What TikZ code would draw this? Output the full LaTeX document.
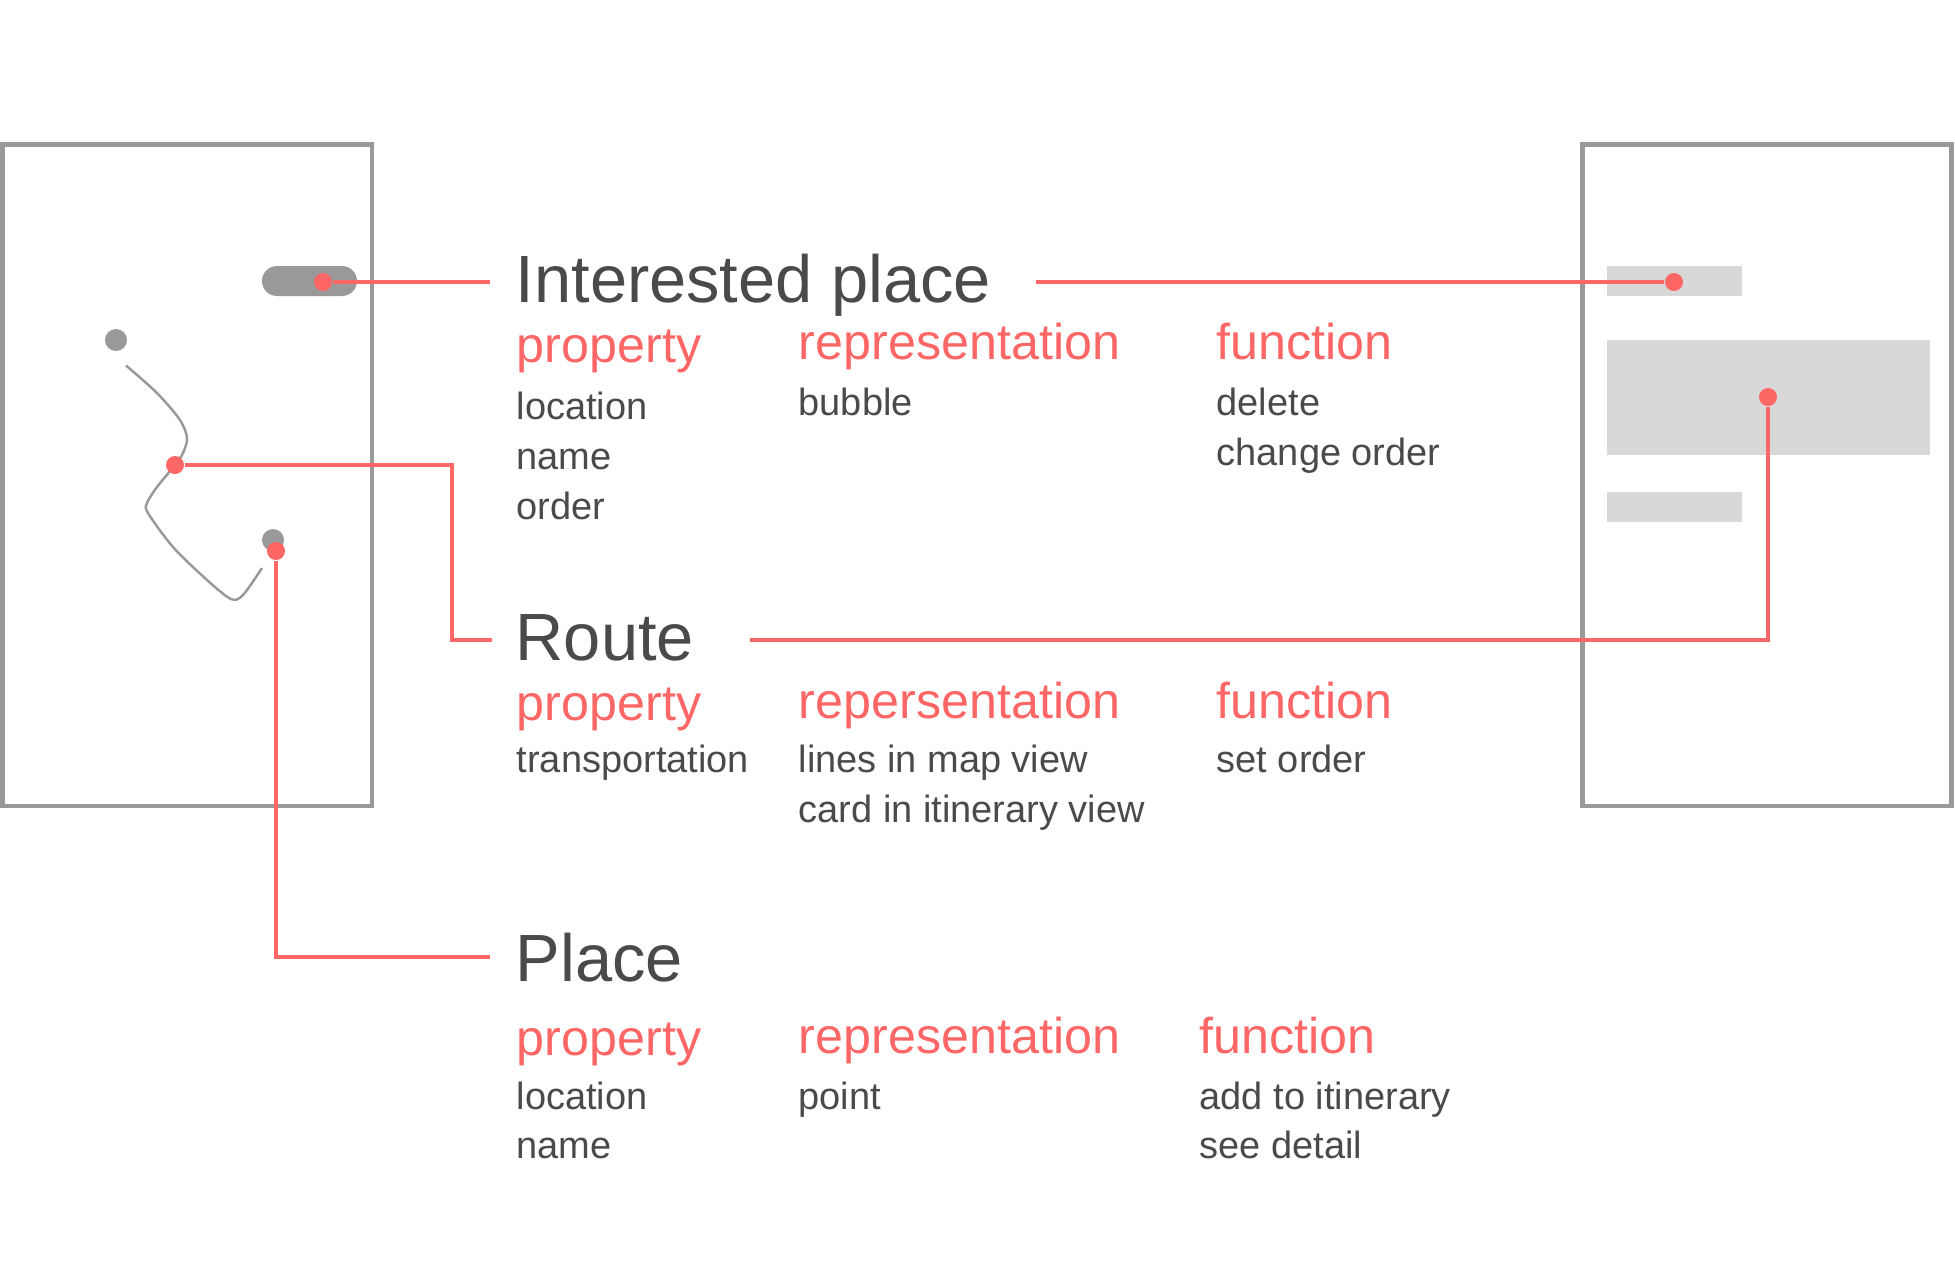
\documentclass[tikz,border=0pt]{standalone}
\usepackage{fontspec}
\setmainfont{Liberation Sans}
\definecolor{linkred}{HTML}{FF6666}
\definecolor{ink}{HTML}{4A4A4A}
\definecolor{framegray}{HTML}{999999}
\definecolor{bargray}{HTML}{D8D8D8}
\begin{document}
\begin{tikzpicture}[
        x=0.01cm, y=-0.01cm,
        screen/.style={draw=framegray, line width=1.3pt},
        bar/.style={fill=bargray},
        link/.style={draw=linkred, line width=0.9pt},
        reddot/.style={circle, fill=linkred, inner sep=0pt, minimum size=0.18cm},
        graydot/.style={circle, fill=framegray, inner sep=0pt, minimum size=0.22cm},
        title/.style={anchor=base west, inner sep=0pt, text=ink, font=\fontsize{19}{23}\selectfont},
        kind/.style={anchor=base west, inner sep=0pt, text=linkred, font=\fontsize{14.3}{17}\selectfont},
        item/.style={anchor=base west, inner sep=0pt, text=ink, font=\fontsize{10.8}{13}\selectfont}
    ]
        \useasboundingbox (0,0) rectangle (1955,1287);

        % Map screen (left)
        \draw[screen] (2.5,144.7) rectangle (372,806);
        \fill[framegray, rounded corners=0.15cm] (262,266) rectangle (357,296);
        \node[graydot] (startdot) at (116,340) {};
        \draw[framegray, line width=0.7pt] plot[smooth, tension=0.5] coordinates {
            (126,365.5) (157,393) (180,420) (187,438) (183,453) (175,465) (157,487)
            (147,503) (148,513) (173,547) (207,580) (231,599) (243,595) (262,568)
        };
        \node[graydot] (enddot) at (273,540) {};

        % Itinerary screen (right)
        \draw[screen] (1582.5,144.7) rectangle (1951.5,806);
        \fill[bar] (1607,266) rectangle (1742,296);
        \fill[bar] (1607,340) rectangle (1930,455);
        \fill[bar] (1607,492) rectangle (1742,522);

        % Dots
        \node[reddot] (pilldot) at (323,282) {};
        \node[reddot] (routedot) at (175,465) {};
        \node[reddot] (placedot) at (276,551) {};
        \node[reddot] (tabdot) at (1674,282) {};
        \node[reddot] (carddot) at (1768,397) {};

        % Interested place
        \node[title] (ipname) at (515,302) {Interested place};
        \node[kind] (ipprop) at (516,362) {property};
        \node[kind] (iprep) at (798,359) {representation};
        \node[kind] (ipfunc) at (1216,359) {function};
        \node[item] at (516,419) {location};
        \node[item] at (516,469) {name};
        \node[item] at (516,519) {order};
        \node[item] at (798,415) {bubble};
        \node[item] at (1216,415) {delete};
        \node[item] at (1216,465) {change order};

        % Route
        \node[title] (routename) at (515,660) {Route};
        \node[kind] (routeprop) at (516,720) {property};
        \node[kind] (routerep) at (798,718) {repersentation};
        \node[kind] (routefunc) at (1216,718) {function};
        \node[item] at (516,772) {transportation};
        \node[item] at (798,772) {lines in map view};
        \node[item] at (798,822) {card in itinerary view};
        \node[item] at (1216,772) {set order};

        % Place
        \node[title] (placename) at (515,981) {Place};
        \node[kind] (placeprop) at (516,1055) {property};
        \node[kind] (placerep) at (798,1053) {representation};
        \node[kind] (placefunc) at (1199,1053) {function};
        \node[item] at (516,1109) {location};
        \node[item] at (516,1158) {name};
        \node[item] at (798,1109) {point};
        \node[item] at (1199,1109) {add to itinerary};
        \node[item] at (1199,1158) {see detail};

        % Connectors
        \coordinate (ipin) at (490,282);
        \coordinate (ipout) at (1036,282);
        \coordinate (routein) at (492,640);
        \coordinate (routeout) at (750,640);
        \coordinate (placein) at (490,957);

        \draw[link] (pilldot) -- (ipin);
        \draw[link] (ipout) -- (tabdot);
        \draw[link] (routedot) -| ([xshift=-0.4cm]routein) -- (routein);
        \draw[link] (routeout) -| (carddot);
        \draw[link] (placedot) |- (placein);

    \end{tikzpicture}
\end{document}
